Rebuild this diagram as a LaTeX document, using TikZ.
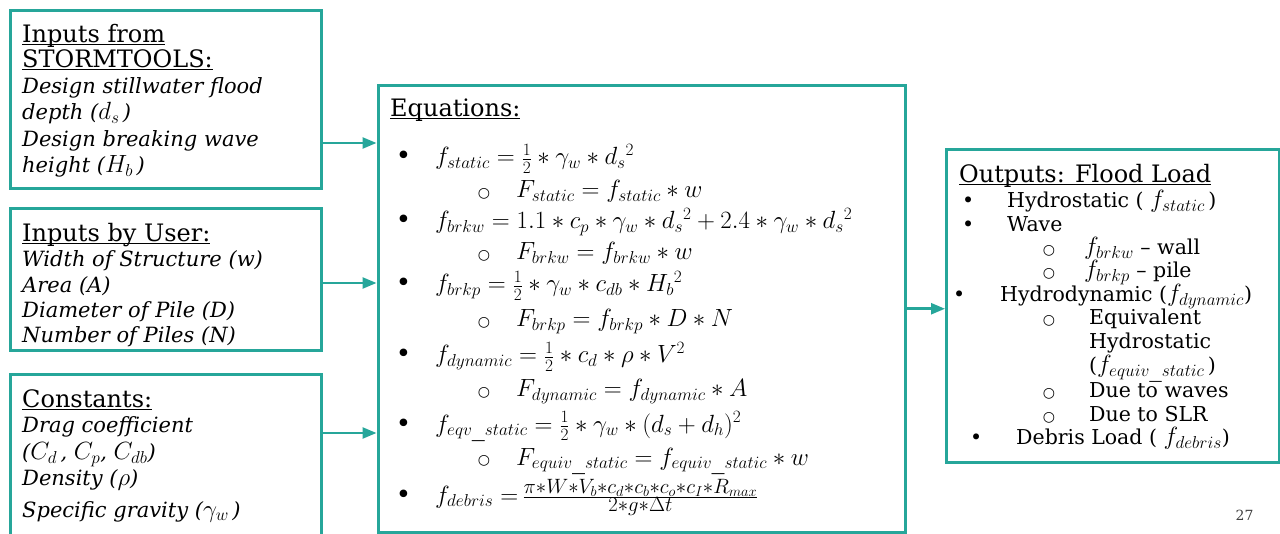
\documentclass[tikz,border=0pt]{standalone}
\usepackage{fontspec}
\setmainfont{DejaVu Serif}
\newfontfamily\markfont{DejaVu Sans}
\usetikzlibrary{arrows.meta}
\definecolor{tealline}{RGB}{38,166,154}
\newcommand\headline[1]{\setbox0\hbox{#1}\rlap{\rule[-2.5pt]{\wd0}{1.8pt}}\box0}
\newcommand\dotmark[1][24pt]{\llap{\markfont •\hspace{#1}}}
\newcommand\ringmark[1][26pt]{\llap{\raisebox{0.5pt}{\markfont\fontsize{14}{14}\selectfont ○}\hspace{#1}}}
\newcommand\mth[1]{{\fontsize{25}{24}\selectfont$#1$}}
\begin{document}
\begin{tikzpicture}[x=1pt,y=-1pt,
  panel/.style={draw=tealline, line width=3pt, anchor=north west, inner sep=0pt},
  flow/.style={draw=tealline, line width=2.5pt, -{Triangle[length=14pt,width=11pt]}},
  head/.style={anchor=base west, inner sep=0pt, font=\fontsize{24}{26}\selectfont},
  item/.style={anchor=base west, inner sep=0pt, font=\fontsize{21}{26}\selectfont\itshape},
  eqline/.style={anchor=base west, inner sep=0pt, font=\fontsize{26}{28}\selectfont},
  loaditem/.style={anchor=base west, inner sep=0pt, font=\fontsize{20.5}{24}\selectfont}]
\useasboundingbox (0,0) rectangle (1280,534);
\clip (0,0) rectangle (1280,534);

\node[panel, minimum width=311.5, minimum height=178] (storm) at (8.5,9.5) {};
\node[panel, minimum width=311.5, minimum height=142] (user) at (8.5,207.5) {};
\node[panel, minimum width=311.5, minimum height=185] (const) at (8.5,373.5) {};
\node[panel, minimum width=527.5, minimum height=446.5] (eqbox) at (376.5,84) {};
\node[panel, minimum width=332.5, minimum height=312.5] (loads) at (945,148) {};

\node[head] (stormhead) at (22,43) {\headline{Inputs from}};
\node[head] (stormhead2) at (22,68) {\headline{STORMTOOLS:}};
\foreach \yy/\txt [count=\i] in {94/Design stillwater flood, 120/{depth (\mth{d_s}\,)},
    147/Design breaking wave, 173/{height (\mth{H_b}\,)}}
  \node[item] (st\i) at (22,\yy) {\txt};

\node[head] (userhead) at (22,242) {\headline{Inputs by User:}};
\foreach \yy/\txt [count=\i] in {267/Width of Structure (w), 293/Area (A),
    318/Diameter of Pile (D), 343/Number of Piles (N)}
  \node[item] (us\i) at (22,\yy) {\txt};

\node[head] (consthead) at (22,408) {\headline{Constants:}};
\foreach \yy/\txt [count=\i] in {433/Drag coefficient, 460/{(\mth{C_d}\,, \mth{C_p}, \mth{C_{db}})},
    485/{Density (\mth{\rho})}, 517/{Specific gravity (\mth{\gamma_w}\,)}}
  \node[item] (co\i) at (22,\yy) {\txt};

\node[head] (eqhead) at (390,117) {\headline{Equations:}};
\foreach \xx/\yy/\eq [count=\i] in {
    435/165/{\dotmark $f_{static}=\frac{1}{2}\ast\gamma_w\ast d_s{}^2$},
    516/198/{\ringmark $F_{static}=f_{static}\ast w$},
    435/229/{\dotmark $f_{brkw}=1.1\ast c_p\ast\gamma_w\ast d_s{}^2+2.4\ast\gamma_w\ast d_s{}^2$},
    516/260/{\ringmark $F_{brkw}=f_{brkw}\ast w$},
    435/292/{\dotmark $f_{brkp}=\frac{1}{2}\ast\gamma_w\ast c_{db}\ast H_b{}^2$},
    516/327/{\ringmark $F_{brkp}=f_{brkp}\ast D\ast N$},
    435/363/{\dotmark $f_{dynamic}=\frac{1}{2}\ast c_d\ast\rho\ast V^2$},
    516/397/{\ringmark $F_{dynamic}=f_{dynamic}\ast A$},
    435/432/{\dotmark $f_{eqv\_static}=\frac{1}{2}\ast\gamma_w\ast(d_s+d_h)^2$},
    516/465/{\ringmark $F_{equiv\_static}=f_{equiv\_static}\ast w$},
    435/503/{\dotmark $f_{debris}=$\,{\fontsize{28.5}{30}\selectfont$\frac{\pi\ast W\ast V_b\ast c_d\ast c_b\ast c_o\ast c_I\ast R_{max}}{2\ast g\ast\Delta t}$}}}
  \node[eqline] (eq\i) at (\xx,\yy) {\eq};

\node[head] (loadhead) at (959,183) {\headline{Outputs: Flood Load}};
\foreach \xx/\yy/\txt [count=\i] in {
    1007/208/{\dotmark[33pt]Hydrostatic ( \mth{f_{static}}\,)},
    1007/232/{\dotmark[33pt]Wave},
    1084/255/{\ringmark[29pt]\mth{f_{brkw}} -- wall},
    1084/278/{\ringmark[29pt]\mth{f_{brkp}} -- pile},
    1000/302/{\dotmark[35pt]Hydrodynamic (\mth{f_{dynamic}})},
    1089/325/{\ringmark[34pt]Equivalent},
    1089/349/{Hydrostatic},
    1089/373/{(\mth{f_{equiv\_static}}\,)},
    1089/398/{\ringmark[34pt]Due to waves},
    1089/422/{\ringmark[34pt]Due to SLR},
    1016/445/{\dotmark[34pt]Debris Load ( \mth{f_{debris}})}}
  \node[loaditem] (ld\i) at (\xx,\yy) {\txt};

\draw[flow] ([yshift=-43pt]storm.east) coordinate (a1) -- (a1 -| eqbox.west);
\draw[flow] ([yshift=-3pt]user.east) coordinate (a2) -- (a2 -| eqbox.west);
\draw[flow] ([yshift=-59.5pt]const.north east) coordinate (a3) -- (a3 -| eqbox.west);
\draw[flow] (eqbox.east) -- (eqbox.east -| loads.west);

\node[anchor=base east, font=\fontsize{14}{14}\selectfont, text=black!75] (pagenum) at (1257,520) {27};
\end{tikzpicture}
\end{document}
